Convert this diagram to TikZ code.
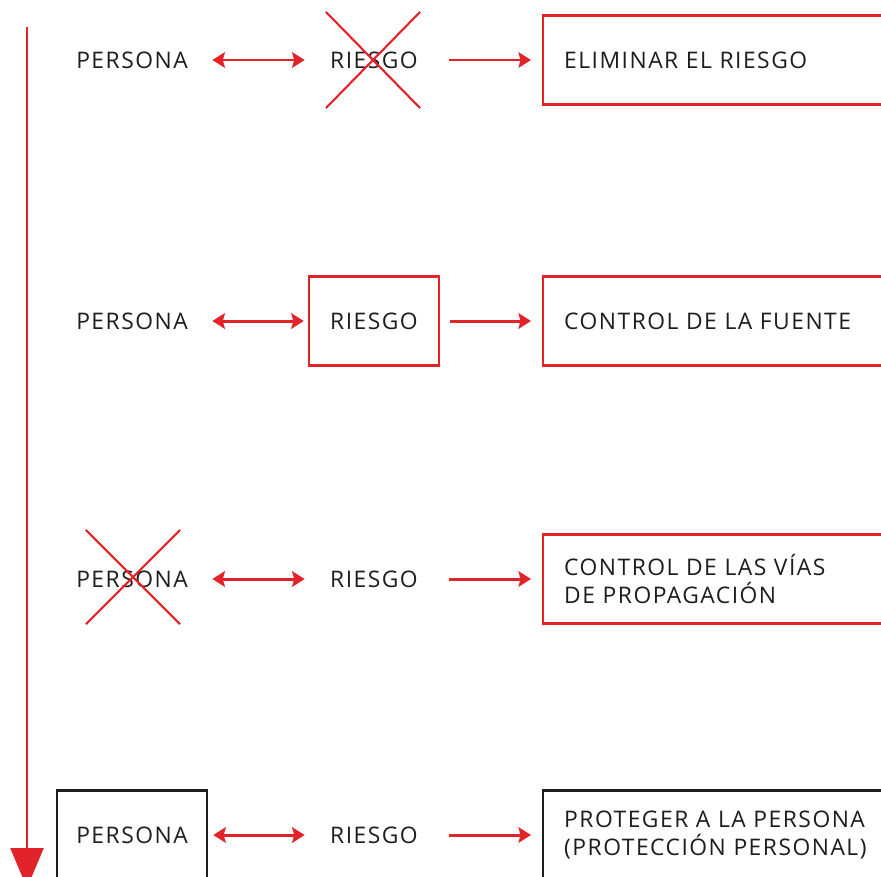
\documentclass[tikz,border=0pt]{standalone}
\usepackage{fontspec}
\setmainfont[LetterSpace=6.5]{Open Sans}
\usetikzlibrary{arrows.meta,shapes.misc}
\definecolor{rojo}{RGB}{226,35,41}
\definecolor{tinta}{RGB}{30,28,29}

\begin{document}
\begin{tikzpicture}[x=0.02cm,y=-0.02cm,>={Stealth[length=0.25cm,width=0.31cm,inset=0.04cm]}]
\tikzstyle{every node}=[text=tinta,font=\fontsize{13}{16.2}\selectfont,inner sep=0pt];
\tikzstyle{pers}=[minimum width=3cm,minimum height=1.78cm];
\tikzstyle{ries}=[minimum width=2.6cm,minimum height=1.78cm];
\tikzstyle{medida}=[anchor=west,minimum height=1.78cm,text width=7.16cm,inner xsep=0.42cm,align=left,line width=1.4pt];
\tikzstyle{tachado}=[draw=rojo,cross out,line width=1.2pt,minimum width=1.84cm,minimum height=1.88cm];
\tikzstyle{flecha}=[draw=rojo,line width=1.7pt];
\useasboundingbox (0,0) rectangle (881,876);
\clip (0,0) rectangle (881,876);
% time line
    \coordinate (arriba) at (27,27);
    \coordinate (abajo) at (27,888);
    \draw[rojo,line width=1.4pt,-{Triangle[length=0.8cm,width=0.66cm]}] (arriba) -- (abajo);
% row 1
%   nodes
    \node[pers] (p1) at (132,60) {PERSONA};
    \node[ries] (r1) at (374,60) {RIESGO};
    \node[tachado] (x1) at (373,60) {};
    \node[medida,draw=rojo] (m1) at (542,60) {ELIMINAR EL RIESGO};
%   edges
    \draw[flecha,<->,shorten <=0.1cm,shorten >=0.08cm] (p1) -- (r1);
    \draw[flecha,->,shorten <=0.2cm,shorten >=0.22cm] (r1) -- (m1);
% row 2
%   nodes
    \node[pers] (p2) at (132,321) {PERSONA};
    \node[ries,draw=rojo,line width=1.4pt] (r2) at (374,321) {RIESGO};
    \node[medida,draw=rojo] (m2) at (542,321) {CONTROL DE LA FUENTE};
%   edges
    \draw[flecha,<->,shorten <=0.1cm,shorten >=0.08cm] (p2) -- (r2);
    \draw[flecha,->,shorten <=0.2cm,shorten >=0.22cm] (r2) -- (m2);
% row 3
%   nodes
    \node[pers] (p3) at (132,579) {PERSONA};
    \node[tachado,minimum height=1.84cm] (x3) at (133,577) {};
    \node[ries] (r3) at (374,579) {RIESGO};
    \node[medida,draw=rojo] (m3) at (542,579) {CONTROL DE LAS VÍAS\\DE PROPAGACIÓN};
%   edges
    \draw[flecha,<->,shorten <=0.1cm,shorten >=0.08cm] (p3) -- (r3);
    \draw[flecha,->,shorten <=0.2cm,shorten >=0.22cm] (r3) -- (m3);
% row 4
%   nodes
    \node[pers,draw=tinta,line width=1.4pt] (p4) at (132,835) {PERSONA};
    \node[ries] (r4) at (374,835) {RIESGO};
    \node[medida,draw=tinta] (m4) at (542,835) {PROTEGER A LA PERSONA\\(PROTECCIÓN PERSONAL)};
%   edges
    \draw[flecha,<->,shorten <=0.1cm,shorten >=0.08cm] (p4) -- (r4);
    \draw[flecha,->,shorten <=0.2cm,shorten >=0.22cm] (r4) -- (m4);
\end{tikzpicture}
\end{document}
